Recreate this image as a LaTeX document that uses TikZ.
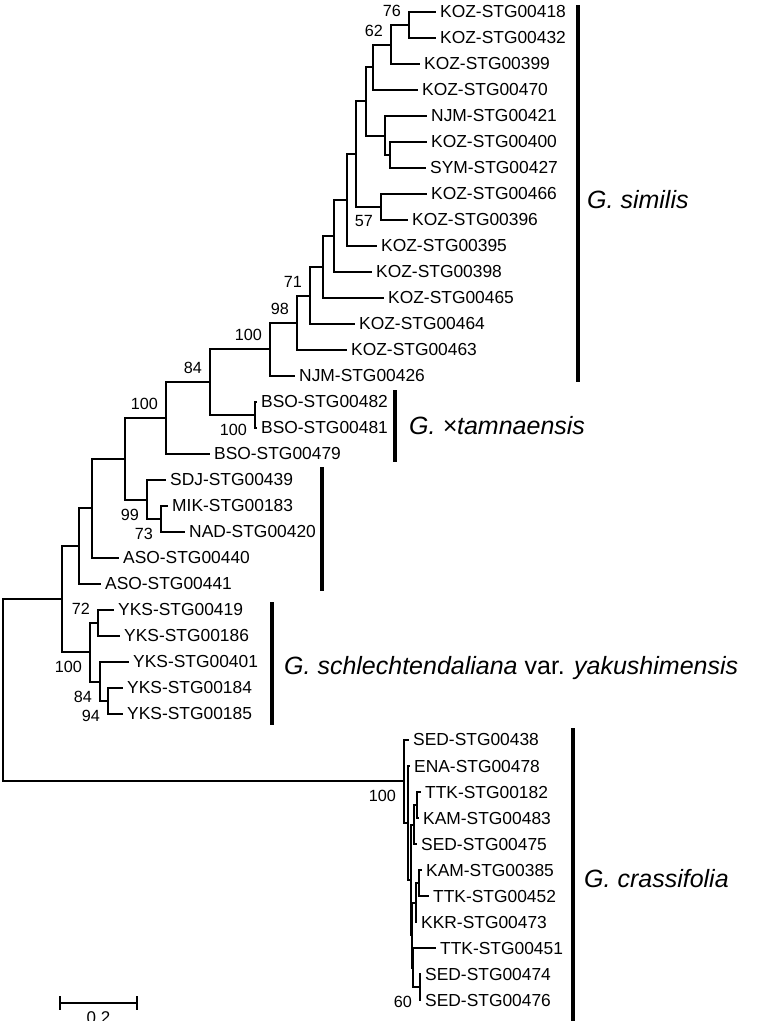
\documentclass[tikz,border=0pt]{standalone}
\usepackage{fontspec}
\setmainfont{Liberation Sans}
\begin{document}
\begin{tikzpicture}[x=1pt,y=-1pt,
  br/.style={line width=2pt},
  cbar/.style={line width=4pt},
  tip/.style={anchor=west,inner sep=0pt,xshift=4pt,font=\fontsize{17.4}{20}\selectfont},
  bs/.style={inner sep=0pt,font=\fontsize{16.2}{19}\selectfont},
  bsup/.style={bs,anchor=east,xshift=-8pt,yshift=14.5pt},
  bsdn/.style={bs,anchor=east,xshift=-8pt,yshift=-14.5pt},
  clade/.style={anchor=base west,inner sep=0pt,font=\fontsize{25}{30}\selectfont}]
\useasboundingbox (0,0) rectangle (756,1021);
% tips
\foreach \n/\x/\y/\t in {
 0/436/12/KOZ-STG00418, 1/436/38/KOZ-STG00432, 2/420/64/KOZ-STG00399,
 3/418/90/KOZ-STG00470, 4/427/116/NJM-STG00421, 5/427/142/KOZ-STG00400,
 6/426/168/SYM-STG00427, 7/427/194/KOZ-STG00466, 8/408/220/KOZ-STG00396,
 9/377/246/KOZ-STG00395, 10/372/272/KOZ-STG00398, 11/384/298/KOZ-STG00465,
 12/355/324/KOZ-STG00464, 13/347/350/KOZ-STG00463, 14/295/376/NJM-STG00426,
 15/257/402/BSO-STG00482, 16/257/428/BSO-STG00481, 17/210/454/BSO-STG00479,
 18/166/480/SDJ-STG00439, 19/168/506/MIK-STG00183, 20/185/532/NAD-STG00420,
 21/119/558/ASO-STG00440, 22/101/584/ASO-STG00441, 23/114/610/YKS-STG00419,
 24/120/636/YKS-STG00186, 25/129/662/YKS-STG00401, 26/123/688/YKS-STG00184,
 27/123/714/YKS-STG00185, 28/409/740/SED-STG00438, 29/410/766/ENA-STG00478,
 30/421/792/TTK-STG00182, 31/419/818/KAM-STG00483, 32/417/844/SED-STG00475,
 33/422/870/KAM-STG00385, 34/429/896/TTK-STG00452, 35/417/922/KKR-STG00473,
 36/436/948/TTK-STG00451, 37/421/974/SED-STG00474, 38/421/1000/SED-STG00476}
 {\coordinate (t\n) at (\x,\y); \node[tip] (l\n) at (t\n) {\t};}
% internal nodes
\coordinate (n76) at (409,25);
\coordinate (n62) at (391,45);
\coordinate (R) at (373,67);
\coordinate (T) at (390,155);
\coordinate (S) at (385,136);
\coordinate (Q) at (366,101);
\coordinate (P) at (381,207);
\coordinate (O) at (356,154);
\coordinate (N) at (347,200);
\coordinate (M) at (334,236);
\coordinate (L) at (323,267);
\coordinate (K) at (310,296);
\coordinate (J) at (297,323);
\coordinate (I) at (270,349);
\coordinate (BP) at (255,415);
\coordinate (H) at (210,382);
\coordinate (G) at (166,418);
\coordinate (F) at (161,519);
\coordinate (E) at (147,500);
\coordinate (D) at (125,459);
\coordinate (C) at (92,508);
\coordinate (B) at (79,546);
\coordinate (Y2) at (98,623);
\coordinate (Y4) at (108,701);
\coordinate (Y3) at (100,682);
\coordinate (Y1) at (90,652);
\coordinate (A) at (62,599);
\coordinate (X1) at (404,781);
\coordinate (X2) at (408,823);
\coordinate (X3) at (411,880);
\coordinate (X4) at (414,825);
\coordinate (C1) at (417,805);
\coordinate (X5) at (412,935);
\coordinate (X6) at (416,903);
\coordinate (C2) at (419,883);
\coordinate (X7) at (413,968);
\coordinate (C3) at (420,987);
\coordinate (root) at (3,690);
% branches
\foreach \p/\c in {n76/t0,n76/t1,n62/n76,n62/t2,R/n62,R/t3,T/t5,T/t6,S/t4,S/T,
  Q/R,Q/S,P/t7,P/t8,O/Q,O/P,N/O,N/t9,M/N,M/t10,L/M,L/t11,K/L,K/t12,J/K,J/t13,
  I/J,I/t14,BP/t15,BP/t16,H/I,H/BP,G/H,G/t17,F/t19,F/t20,E/t18,E/F,D/G,D/E,
  C/D,C/t21,B/C,B/t22,Y2/t23,Y2/t24,Y4/t26,Y4/t27,Y3/t25,Y3/Y4,Y1/Y2,Y1/Y3,
  A/B,A/Y1,root/A,root/X1,X1/t28,X1/X2,X2/t29,X2/X3,X3/X4,X3/X5,X4/C1,X4/t32,
  C1/t30,C1/t31,X5/X6,X5/X7,X6/C2,X6/t35,C2/t33,C2/t34,X7/t36,X7/C3,C3/t37,C3/t38}
 {\draw[br] (\p) |- (\c);}
% bootstrap values
\node[bsup] (b76) at (n76) {76};
\node[bsup] (b62) at (n62) {62};
\node[bsdn] (b57) at (P) {57};
\node[bsup] (b71) at (K) {71};
\node[bsup] (b98) at (J) {98};
\node[bsup] (bI) at (I) {100};
\node[bsup] (bH) at (H) {84};
\node[bsdn] (bBP) at (BP) {100};
\node[bsup] (bG) at (G) {100};
\node[bsdn] (bE) at (E) {99};
\node[bsdn] (bF) at (F) {73};
\node[bsup] (bY2) at (Y2) {72};
\node[bsdn] (bY1) at (Y1) {100};
\node[bsdn] (bY3) at (Y3) {84};
\node[bsdn] (bY4) at (Y4) {94};
\node[bsdn] (bX1) at (X1) {100};
\node[bsdn] (bC3) at (C3) {60};
% clade bars
\coordinate (s1) at (578,5);   \coordinate (s2) at (578,382);
\coordinate (m1) at (395,390); \coordinate (m2) at (395,462);
\coordinate (u1) at (322,467); \coordinate (u2) at (322,591);
\coordinate (y1) at (272,602); \coordinate (y2) at (272,725);
\coordinate (c1) at (573,728); \coordinate (c2) at (573,1021);
\draw[cbar] (s1) -- (s2);
\draw[cbar] (m1) -- (m2);
\draw[cbar] (u1) -- (u2);
\draw[cbar] (y1) -- (y2);
\draw[cbar] (c1) -- (c2);
% clade names
\node[clade] (csim) at (587,208) {\itshape G. similis};
\node[clade] (ctam) at (409,434) {\itshape G. \texttimes tamnaensis};
\node[clade] (cyak) at (284,674) {\itshape G. schlechtendaliana \upshape var. \itshape yakushimensis};
\node[clade] (ccra) at (584,887) {\itshape G. crassifolia};
% scale bar
\coordinate (sb1) at (60,1003); \coordinate (sb2) at (137,1003);
\coordinate (sb1a) at (60,996); \coordinate (sb1b) at (60,1010);
\coordinate (sb2a) at (137,996); \coordinate (sb2b) at (137,1010);
\draw[br] (sb1) -- (sb2);
\draw[br] (sb1a) -- (sb1b);
\draw[br] (sb2a) -- (sb2b);
\node[bs,anchor=north,font=\fontsize{17}{20}\selectfont] (sbl) at (98.5,1011.5) {0.2};
\end{tikzpicture}
\end{document}
